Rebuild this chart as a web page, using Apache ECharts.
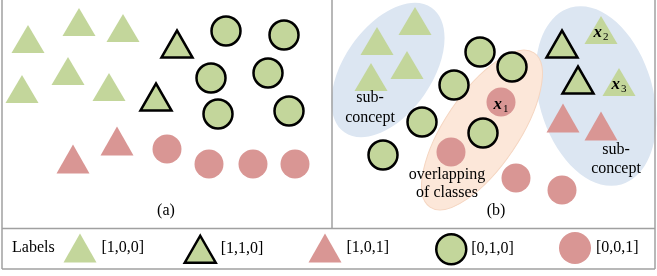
<!DOCTYPE html>
<html>
<head>
<meta charset="utf-8">
<script src="https://cdn.jsdelivr.net/npm/echarts@6/dist/echarts.min.js"></script>
<style>
  html, body { margin: 0; padding: 0; background: #fff; }
  #main { width: 657px; height: 276px; }
</style>
</head>
<body>
<div id="main"></div>
<script>
// point positions in picture units (x right, y down), third item = subscript tag
var greenTriA = [[28, 39], [79, 22], [123, 28], [68, 71], [22, 89], [109, 87]];
var greenTriB = [[377, 41], [415, 21], [371, 77], [407, 65], [601, 30, '2'], [619, 82, '3']];
var blackTriA = [[177, 44], [156, 97]];
var blackTriB = [[562, 44], [578, 80]];
var redTriA = [[73, 159], [117, 141]];
var redTriB = [[563, 118], [601, 126]];
var greenCircA = [[226, 31], [284, 35], [211, 78], [268, 73], [218, 114], [289, 111]];
var greenCircB = [[480, 52], [512, 67], [454, 85], [422, 122], [483, 133], [383, 155]];
var redCircA = [[167, 149], [209, 164], [253, 164], [295, 164]];
var redCircB = [[501, 102, '1'], [451, 152], [516, 178], [562, 190]];

// ellipses: cx, cy, rx, ry, rotation (deg)
var subConcepts = [[388, 70, 44, 76, -35], [596, 96, 57, 92, 16]];
var overlapZone = [[482, 130, 37, 93, -34]];

var labelNames = ['[1,0,0]', '[1,1,0]', '[1,0,1]', '[0,1,0]', '[0,0,1]'];

var GREEN = '#c3d69b';
var RED = '#d99694';
var SERIF = 'Liberation Serif';

function toData(arr) {
    return arr.map(function (p) {
        if (!p[2]) return [p[0], p[1]];
        return {
            value: [p[0], p[1]],
            label: {
                show: true,
                position: 'inside',
                offset: [0, 3],
                formatter: '{x|x}{s|' + p[2] + '}',
                rich: {
                    x: { fontFamily: SERIF, fontStyle: 'italic', fontWeight: 'bold', fontSize: 17, color: '#000' },
                    s: { fontFamily: SERIF, fontSize: 11, color: '#000', padding: [8, 0, 0, 1] }
                }
            }
        };
    });
}

function renderEllipse(params, api) {
    var c = api.coord([api.value(0), api.value(1)]);
    var s = api.size([api.value(2), api.value(3)]);
    return {
        type: 'ellipse',
        x: c[0],
        y: c[1],
        rotation: api.value(4) * Math.PI / 180,
        shape: { cx: 0, cy: 0, rx: Math.abs(s[0]), ry: Math.abs(s[1]) },
        style: api.style()
    };
}

var myChart = echarts.init(document.getElementById('main'));

var lineStyle = { stroke: '#a0a0a0', lineWidth: 1.5 };

function legendAt(name, cx, w, h, extra) {
    var item = { name: name };
    if (extra) item.itemStyle = extra;
    return {
        data: [item],
        left: cx - w / 2,
        top: 248 - h / 2,
        itemWidth: w,
        itemHeight: h,
        padding: 0,
        selectedMode: false,
        textStyle: { fontFamily: SERIF, fontSize: 16, color: '#000' }
    };
}

var option = {
    backgroundColor: '#fff',
    animation: false,
    grid: { left: 0, right: 0, top: 0, bottom: 0 },
    xAxis: { type: 'value', min: 0, max: 657, show: false },
    yAxis: { type: 'value', min: 0, max: 276, inverse: true, show: false },
    legend: [
        legendAt(labelNames[0], 80, 33, 29),
        legendAt(labelNames[1], 199, 31, 27, { borderWidth: 2.5, borderJoin: 'miter' }),
        legendAt(labelNames[2], 325, 33, 29),
        legendAt(labelNames[3], 450, 30, 30, { borderWidth: 2.5 }),
        legendAt(labelNames[4], 575, 32, 32)
    ],
    graphic: [
        { type: 'line', shape: { x1: 2, y1: 0, x2: 2, y2: 269 }, style: lineStyle, z: 100 },
        { type: 'line', shape: { x1: 655, y1: 0, x2: 655, y2: 269 }, style: lineStyle, z: 100 },
        { type: 'line', shape: { x1: 2, y1: 269, x2: 655, y2: 269 }, style: lineStyle, z: 100 },
        { type: 'line', shape: { x1: 2, y1: 228.5, x2: 655, y2: 228.5 }, style: lineStyle, z: 100 },
        { type: 'line', shape: { x1: 332, y1: 0, x2: 332, y2: 228.5 }, style: lineStyle, z: 100 },
        { type: 'text', x: 12, y: 248, style: { text: 'Labels', fontFamily: SERIF, fontSize: 16, fill: '#000', verticalAlign: 'middle' } },
        { type: 'text', x: 166, y: 211, style: { text: '(a)', fontFamily: SERIF, fontSize: 16, fill: '#000', align: 'center', verticalAlign: 'middle' } },
        { type: 'text', x: 496, y: 211, style: { text: '(b)', fontFamily: SERIF, fontSize: 16, fill: '#000', align: 'center', verticalAlign: 'middle' } },
        { type: 'text', x: 370, y: 108, z: 50, style: { text: 'sub-\nconcept', fontFamily: SERIF, fontSize: 16, lineHeight: 20, fill: '#000', align: 'center', verticalAlign: 'middle' } },
        { type: 'text', x: 616, y: 159, z: 50, style: { text: 'sub-\nconcept', fontFamily: SERIF, fontSize: 16, lineHeight: 19, fill: '#000', align: 'center', verticalAlign: 'middle' } },
        { type: 'text', x: 447, y: 184, z: 50, style: { text: 'overlapping\nof classes', fontFamily: SERIF, fontSize: 16, lineHeight: 18, fill: '#000', align: 'center', verticalAlign: 'middle' } }
    ],
    series: [
        {
            type: 'custom', name: 'subconcept', z: 1, silent: true,
            renderItem: renderEllipse,
            itemStyle: { color: '#dce6f2' },
            data: subConcepts
        },
        {
            type: 'custom', name: 'overlap', z: 1, silent: true,
            renderItem: renderEllipse,
            itemStyle: { color: '#fce7d9', borderColor: '#f5d5c0', borderWidth: 1 },
            data: overlapZone
        },
        {
            type: 'scatter', name: labelNames[0], z: 3,
            symbol: 'triangle', symbolSize: [33, 28],
            itemStyle: { color: GREEN, opacity: 1 },
            data: toData(greenTriA.concat(greenTriB))
        },
        {
            type: 'scatter', name: labelNames[1], z: 3,
            symbol: 'triangle', symbolSize: [31, 27],
            itemStyle: { color: GREEN, borderColor: '#000', borderWidth: 2.5, borderJoin: 'miter', opacity: 1 },
            data: toData(blackTriA.concat(blackTriB))
        },
        {
            type: 'scatter', name: labelNames[2], z: 3,
            symbol: 'triangle', symbolSize: [33, 29],
            itemStyle: { color: RED, opacity: 1 },
            data: toData(redTriA.concat(redTriB))
        },
        {
            type: 'scatter', name: labelNames[3], z: 3,
            symbol: 'circle', symbolSize: 29,
            itemStyle: { color: GREEN, borderColor: '#000', borderWidth: 2.5, opacity: 1 },
            data: toData(greenCircA.concat(greenCircB))
        },
        {
            type: 'scatter', name: labelNames[4], z: 3,
            symbol: 'circle', symbolSize: 29,
            itemStyle: { color: RED, opacity: 1 },
            data: toData(redCircA.concat(redCircB))
        }
    ]
};

myChart.setOption(option);
</script>
</body>
</html>
